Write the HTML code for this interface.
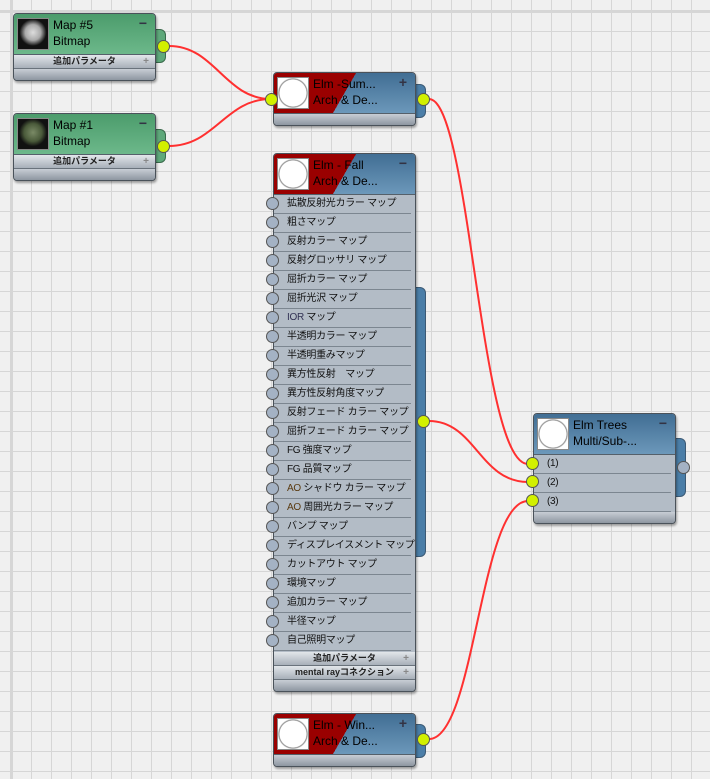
<!DOCTYPE html>
<html><head><meta charset="utf-8"><style>
body{margin:0;width:710px;height:779px;overflow:hidden;position:relative;
background-color:#f0f0f0;
background-image:linear-gradient(#d6d6d6 1px,transparent 1px),linear-gradient(90deg,#d6d6d6 1px,transparent 1px);
background-size:20px 20px;background-position:0 11px,11px 0;
font-family:"Liberation Sans","Noto Sans CJK JP",sans-serif;}
.thickv{position:absolute;left:10px;top:0;width:3px;height:779px;background:#d6d6d6}
.thickh{position:absolute;left:0;top:10px;width:710px;height:3px;background:#d6d6d6}
.node{position:absolute;width:141px;border:1px solid #4a525a;border-radius:4px;background:#b3bcc6;box-shadow:1px 2px 2px rgba(0,0,0,.35);overflow:hidden}
.hdr{position:relative;height:40px;border-bottom:1px solid #55606a}
.green{background:linear-gradient(#4c9c6c,#6cb88a)}
.red{background:linear-gradient(120deg,#9a0000 0,#9a0000 50%,transparent 50%),linear-gradient(#416e94,#6c98ba)}
.blue{background:linear-gradient(#416e94,#6c98ba)}
.thumb{position:absolute;left:3px;top:4px;width:30px;height:30px;background:#fff;border:1px solid #888}
.thumb.dark{background:radial-gradient(circle at 50% 45%,#ddd 0,#aaa 35%,#111 60%)}
.thumb.dark2{background:radial-gradient(circle at 50% 45%,#7a8a66 0,#4a5a3a 40%,#111 62%)}
.thumb.ball{background:radial-gradient(circle,#fff 62%,#888 66%,#fff 72%)}
.t1{position:absolute;left:39px;top:4px;font-size:12px;color:#000;white-space:nowrap}
.t2{position:absolute;left:39px;top:20px;font-size:12px;color:#000;white-space:nowrap}
.pm{position:absolute;right:8px;top:1px;font-size:14px;font-weight:bold;color:#334}
.prm{height:13px;border-bottom:1px solid #6a737c;background:linear-gradient(#e2e6ea,#a8b0b9);font-size:9px;font-weight:bold;text-align:center;line-height:13px;color:#222;position:relative}
.prm:after{content:"+";position:absolute;right:6px;top:0;color:#888;font-size:10px}
.foot{height:11px;background:linear-gradient(#c8ced5,#8e97a1)}
.row{height:18px;border-bottom:1px solid #7c8690;font-size:10px;line-height:18px;padding-left:13px;color:#111;margin-right:4px;white-space:nowrap;letter-spacing:-0.3px}
.tab{position:absolute;width:11px;border-radius:0 6px 6px 0;border:1px solid #3c5a75;border-left:none}
.dot{position:absolute;width:11px;height:11px;border-radius:50%;border:1px solid #555;background:#d2f000}
.gdot{position:absolute;width:11px;height:11px;border-radius:50%;border:1px solid #555;background:#a4b2c4}
</style></head><body>
<div class="thickv"></div><div class="thickh"></div>
<svg width="710" height="779" style="position:absolute;left:0;top:0">
<g fill="none" stroke="#ff3030" stroke-width="2">
<path d="M169 46 C215 46,225 99,271 99"/>
<path d="M169 146 C215 146,225 99,271 99"/>
<path d="M429 99 C470 99,480 464,528 464"/>
<path d="M429 421 C475 421,480 482,528 482"/>
<path d="M429 739 C475 739,480 501,528 501"/>
</g></svg>

<div class="tab" style="left:154px;top:29px;height:32px;background:#5ea87a;border-color:#3a6a4c"></div>
<div class="tab" style="left:154px;top:129px;height:32px;background:#5ea87a;border-color:#3a6a4c"></div>
<div class="tab" style="left:414px;top:84px;height:32px;background:#4b7ea8"></div>
<div class="tab" style="left:414px;top:287px;height:268px;background:#4b7ea8"></div>
<div class="tab" style="left:414px;top:724px;height:32px;background:#4b7ea8"></div>
<div class="tab" style="left:674px;top:438px;height:57px;background:#4b7ea8"></div>

<div class="node" style="left:13px;top:13px"><div class="hdr green"><div class="thumb dark"></div><div class="t1">Map #5</div><div class="t2">Bitmap</div><div class="pm">−</div></div><div class="prm">追加パラメータ</div><div class="foot"></div></div>
<div class="node" style="left:13px;top:113px"><div class="hdr green"><div class="thumb dark2"></div><div class="t1">Map #1</div><div class="t2">Bitmap</div><div class="pm">−</div></div><div class="prm">追加パラメータ</div><div class="foot"></div></div>

<div class="node" style="left:273px;top:72px"><div class="hdr red"><div class="thumb ball"></div><div class="t1">Elm -Sum...</div><div class="t2">Arch &amp; De...</div><div class="pm">+</div></div><div class="foot"></div></div>

<div class="node" style="left:273px;top:153px"><div class="hdr red"><div class="thumb ball"></div><div class="t1">Elm - Fall</div><div class="t2">Arch &amp; De...</div><div class="pm">−</div></div>
<div class="row">拡散反射光カラー マップ</div><div class="row">粗さマップ</div><div class="row">反射カラー マップ</div><div class="row">反射グロッサリ マップ</div><div class="row">屈折カラー マップ</div><div class="row">屈折光沢 マップ</div><div class="row"><span style="color:#335">IOR</span> マップ</div><div class="row">半透明カラー マップ</div><div class="row">半透明重みマップ</div><div class="row">異方性反射　マップ</div><div class="row">異方性反射角度マップ</div><div class="row">反射フェード カラー マップ</div><div class="row">屈折フェード カラー マップ</div><div class="row">FG 強度マップ</div><div class="row">FG 品質マップ</div><div class="row"><span style="color:#5a3a10">AO</span> シャドウ カラー マップ</div><div class="row"><span style="color:#5a3a10">AO</span> 周囲光カラー マップ</div><div class="row">バンプ マップ</div><div class="row">ディスプレイスメント マップ</div><div class="row">カットアウト マップ</div><div class="row">環境マップ</div><div class="row">追加カラー マップ</div><div class="row">半径マップ</div><div class="row">自己照明マップ</div>
<div class="prm" style="margin-top:1px">追加パラメータ</div><div class="prm">mental rayコネクション</div><div class="foot"></div></div>

<div class="node" style="left:273px;top:713px"><div class="hdr red"><div class="thumb ball"></div><div class="t1">Elm - Win...</div><div class="t2">Arch &amp; De...</div><div class="pm">+</div></div><div class="foot"></div></div>

<div class="node" style="left:533px;top:413px"><div class="hdr blue"><div class="thumb ball"></div><div class="t1">Elm Trees</div><div class="t2">Multi/Sub-...</div><div class="pm">−</div></div>
<div class="row">(1)</div><div class="row">(2)</div><div class="row">(3)</div><div class="foot"></div></div>

<div class="dot" style="left:157px;top:40px"></div>
<div class="dot" style="left:157px;top:140px"></div>
<div class="dot" style="left:265px;top:93px"></div>
<div class="dot" style="left:417px;top:93px"></div>
<div class="dot" style="left:417px;top:415px"></div>
<div class="dot" style="left:417px;top:733px"></div>
<div class="dot" style="left:526px;top:457px"></div>
<div class="dot" style="left:526px;top:475px"></div>
<div class="dot" style="left:526px;top:494px"></div>
<div class="gdot" style="left:677px;top:461px"></div>
<div class="gdot" style="left:266px;top:197px"></div><div class="gdot" style="left:266px;top:216px"></div><div class="gdot" style="left:266px;top:235px"></div><div class="gdot" style="left:266px;top:254px"></div><div class="gdot" style="left:266px;top:273px"></div><div class="gdot" style="left:266px;top:292px"></div><div class="gdot" style="left:266px;top:311px"></div><div class="gdot" style="left:266px;top:330px"></div><div class="gdot" style="left:266px;top:349px"></div><div class="gdot" style="left:266px;top:368px"></div><div class="gdot" style="left:266px;top:387px"></div><div class="gdot" style="left:266px;top:406px"></div><div class="gdot" style="left:266px;top:425px"></div><div class="gdot" style="left:266px;top:444px"></div><div class="gdot" style="left:266px;top:463px"></div><div class="gdot" style="left:266px;top:482px"></div><div class="gdot" style="left:266px;top:501px"></div><div class="gdot" style="left:266px;top:520px"></div><div class="gdot" style="left:266px;top:539px"></div><div class="gdot" style="left:266px;top:558px"></div><div class="gdot" style="left:266px;top:577px"></div><div class="gdot" style="left:266px;top:596px"></div><div class="gdot" style="left:266px;top:615px"></div><div class="gdot" style="left:266px;top:634px"></div>
</body></html>
